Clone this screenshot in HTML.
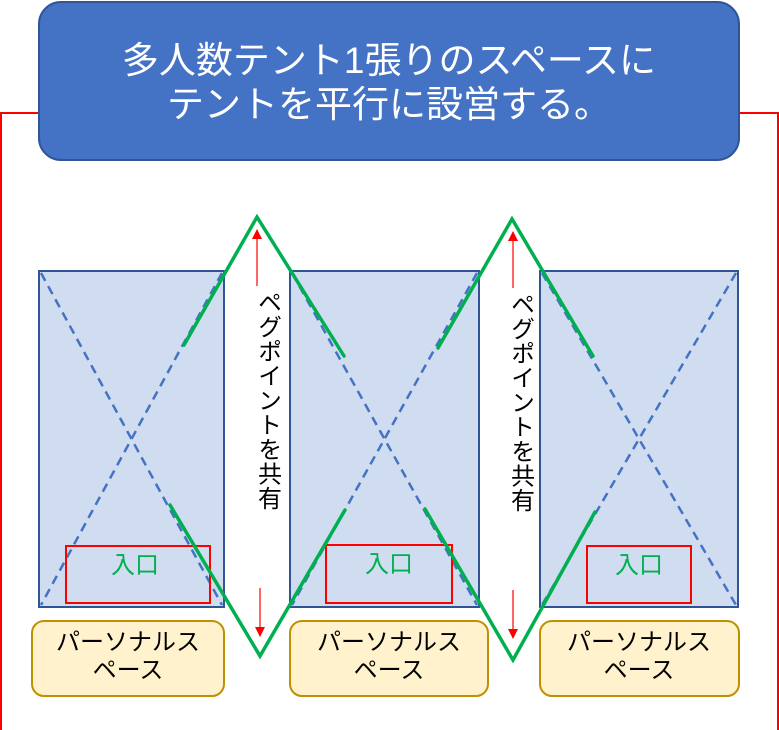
<!DOCTYPE html>
<html><head><meta charset="utf-8"><style>
html,body{margin:0;padding:0;background:#fff;}
svg{display:block;}
text{font-family:"Liberation Sans","Noto Sans CJK JP",sans-serif;}
</style></head><body>
<svg width="779" height="730" viewBox="0 0 779 730" xmlns="http://www.w3.org/2000/svg">
<defs>
<marker id="ar" viewBox="0 0 10 10" refX="9" refY="5" markerWidth="10" markerHeight="10" markerUnits="userSpaceOnUse" orient="auto"><path d="M0,0L10,5L0,10z" fill="#ff0000"/></marker>
</defs>
<rect x="1" y="113" width="777" height="620" fill="none" stroke="#ff0000" stroke-width="2"/>
<g fill="#d0dcef" stroke="#2f5597" stroke-width="2">
<rect x="39" y="271" width="185" height="336"/>
<rect x="290" y="271" width="189" height="336"/>
<rect x="540" y="271" width="198" height="336"/>
</g>
<g stroke="#4472c4" stroke-width="2.5" stroke-dasharray="9,6" fill="none">
<line x1="41" y1="273" x2="222" y2="605"/><line x1="222" y1="273" x2="41" y2="605"/>
<line x1="292" y1="273" x2="477" y2="605"/><line x1="477" y1="273" x2="292" y2="605"/>
<line x1="542" y1="273" x2="736" y2="605"/><line x1="736" y1="273" x2="542" y2="605"/>
</g>
<rect x="225" y="271" width="64" height="337" fill="#fff"/>
<rect x="480" y="271" width="59" height="337" fill="#fff"/>
<line x1="224" y1="271" x2="224" y2="607" stroke="#2f5597" stroke-width="2"/>
<line x1="290" y1="271" x2="290" y2="607" stroke="#2f5597" stroke-width="2"/>
<line x1="479" y1="271" x2="479" y2="607" stroke="#2f5597" stroke-width="2"/>
<line x1="540" y1="271" x2="540" y2="607" stroke="#2f5597" stroke-width="2"/>
<g fill="none" stroke="#ff0000" stroke-width="2">
<rect x="66" y="546" width="144" height="57"/>
<rect x="326" y="545" width="126" height="58"/>
<rect x="587" y="546" width="104" height="57"/>
</g>
<g fill="#00b050" font-size="24" text-anchor="middle">
<text x="135" y="573">入口</text>
<text x="389" y="572">入口</text>
<text x="639" y="573">入口</text>
</g>
<g stroke="#00b050" stroke-width="3.5" fill="none" stroke-linecap="round">
<polyline points="184,345 257,217 344,356"/>
<polyline points="170,505 260,656 345,510"/>
<polyline points="438,348 512,219 593,356"/>
<polyline points="425,509 513,660 595,512"/>
</g>
<g stroke="#ff0000" stroke-width="1.2" marker-end="url(#ar)">
<line x1="257" y1="286" x2="257" y2="230"/>
<line x1="260" y1="588" x2="260" y2="636"/>
<line x1="513" y1="288" x2="513" y2="232"/>
<line x1="513" y1="590" x2="513" y2="638"/>
</g>
<g font-size="24" fill="#000" style="writing-mode:vertical-rl;letter-spacing:0.5px">
<text x="267" y="290">ペグポイントを共有</text>
<text x="520" y="292">ペグポイントを共有</text>
</g>
<g fill="#fff2cc" stroke="#bf9000" stroke-width="2">
<rect x="32" y="621" width="192" height="75" rx="12"/>
<rect x="290" y="621" width="198" height="75" rx="12"/>
<rect x="540" y="621" width="199" height="75" rx="12"/>
</g>
<g font-size="24" fill="#000" text-anchor="middle">
<text x="128" y="650">パーソナルス</text><text x="128" y="678">ペース</text>
<text x="389" y="650">パーソナルス</text><text x="389" y="678">ペース</text>
<text x="639" y="650">パーソナルス</text><text x="639" y="678">ペース</text>
</g>
<rect x="39" y="2" width="700" height="158" rx="22" fill="#4472c4" stroke="#2f5597" stroke-width="2"/>
<g fill="#fff" font-size="37" text-anchor="middle">
<text x="389" y="73">多人数テント1張りのスペースに</text>
<text x="389" y="117">テントを平行に設営する。</text>
</g>
</svg>
</body></html>
